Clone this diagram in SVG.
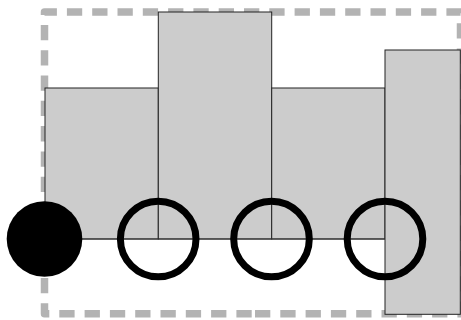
<svg xmlns="http://www.w3.org/2000/svg" width="461" height="320" viewBox="0 0 461 320">
<style>
.frame{fill:none;stroke:#b3b3b3;stroke-width:7.5;stroke-dasharray:15.3 10;stroke-linejoin:round}
.bar{fill:#cccccc;stroke:#222222;stroke-width:1}
.dot{fill:#000000}
.ring{fill:none;stroke:#000000;stroke-width:7}
.link{stroke:#333333;stroke-width:1;fill:none}
</style>
<path class="frame" d="M255 313.7 H460.5 V12 H44.5 V313.7 Z"/>
<g id="bar1"><rect class="bar" x="45" y="88" width="113.3" height="151"/></g>
<g id="bar2"><rect class="bar" x="158.3" y="12" width="113.4" height="227"/></g>
<g id="bar3"><rect class="bar" x="271.7" y="88" width="113.3" height="151"/></g>
<g id="bar4"><rect class="bar" x="385" y="50" width="75.3" height="264.3"/></g>
<g id="connectors"><line class="link" x1="45" y1="239" x2="385" y2="239"/></g>
<g id="n0"><circle class="dot" cx="44.5" cy="239" r="37.8"/></g>
<g id="n1"><circle class="ring" cx="158.2" cy="239" r="37.8"/></g>
<g id="n2"><circle class="ring" cx="271.5" cy="239" r="37.8"/></g>
<g id="n3"><circle class="ring" cx="385" cy="239" r="37.8"/></g>
</svg>
